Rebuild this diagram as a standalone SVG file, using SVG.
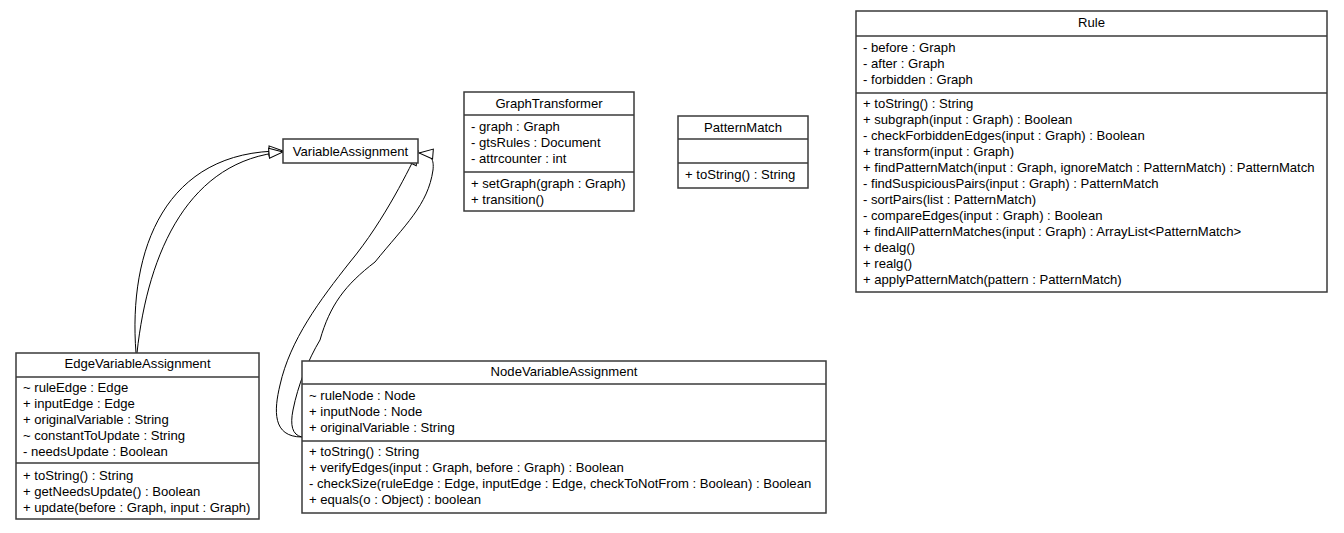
<svg xmlns="http://www.w3.org/2000/svg" width="1344" height="533" viewBox="0 0 1344 533">
  <style>
    text { font-family: "Liberation Sans", Arial, sans-serif; font-size: 13.1px; fill: #000; }
    .title { text-anchor: middle; }
    .box { fill: #fff; stroke: #3a3a3a; stroke-width: 1.5; }
    .sep { stroke: #3a3a3a; stroke-width: 1.5; }
    .edge { fill: none; stroke: #000; stroke-width: 1; }
  </style>
  <defs>
    <!-- hollow triangle: generalization -->
    <marker id="gen" markerUnits="userSpaceOnUse" viewBox="0 0 16 12" markerWidth="16" markerHeight="12" refX="15" refY="6" orient="auto">
      <path d="M1,1 L15,6 L1,11 Z" fill="#fff" stroke="#000" stroke-width="1"/>
    </marker>
  </defs>
  <rect width="1344" height="533" fill="#fff"/>

  <g id="connectors">
    <path class="edge" d="M136,353 C128,250 165,150 283,151" marker-end="url(#gen)"/>
    <path class="edge" d="M137,353 C148,250 190,160 283,152" marker-end="url(#gen)"/>
    <path class="edge" d="M302,437 C272,437 274,410 280,385 C290,340 320,300 350,262 C385,220 411,165 418,151" marker-end="url(#gen)"/>
    <path class="edge" d="M302,437 C292,435 290,425 293,410 C298,385 308,360 320,340 C330,305 345,285 375,262 C405,225 428,205 433,170 C434,160 432,154 419,153" marker-end="url(#gen)"/>
  </g>

  <g id="VariableAssignment">
    <rect class="box" x="283" y="139" width="135" height="24"/>
    <text class="title" x="350.5" y="155.5">VariableAssignment</text>
  </g>

  <g id="GraphTransformer">
    <rect class="box" x="464" y="92" width="170" height="119"/>
    <line class="sep" x1="464" y1="115" x2="634" y2="115"/>
    <line class="sep" x1="464" y1="172" x2="634" y2="172"/>
    <text class="title" x="549" y="107.5">GraphTransformer</text>
    <text x="471" y="130.5">- graph : Graph</text>
    <text x="471" y="146.5">- gtsRules : Document</text>
    <text x="471" y="162.5">- attrcounter : int</text>
    <text x="471" y="187.5">+ setGraph(graph : Graph)</text>
    <text x="471" y="203.5">+ transition()</text>
  </g>

  <g id="PatternMatch">
    <rect class="box" x="678" y="116" width="130" height="72"/>
    <line class="sep" x1="678" y1="139" x2="808" y2="139"/>
    <line class="sep" x1="678" y1="163" x2="808" y2="163"/>
    <text class="title" x="743" y="131.5">PatternMatch</text>
    <text x="685" y="178.5">+ toString() : String</text>
  </g>

  <g id="Rule">
    <rect class="box" x="856" y="11" width="471" height="281"/>
    <line class="sep" x1="856" y1="36" x2="1327" y2="36"/>
    <line class="sep" x1="856" y1="93" x2="1327" y2="93"/>
    <text class="title" x="1091.5" y="26.5">Rule</text>
    <text x="863" y="51.5">- before : Graph</text>
    <text x="863" y="67.5">- after : Graph</text>
    <text x="863" y="83.5">- forbidden : Graph</text>
    <text x="863" y="107.5">+ toString() : String</text>
    <text x="863" y="123.5">+ subgraph(input : Graph) : Boolean</text>
    <text x="863" y="139.5">- checkForbiddenEdges(input : Graph) : Boolean</text>
    <text x="863" y="155.5">+ transform(input : Graph)</text>
    <text x="863" y="171.5">+ findPatternMatch(input : Graph, ignoreMatch : PatternMatch) : PatternMatch</text>
    <text x="863" y="187.5">- findSuspiciousPairs(input : Graph) : PatternMatch</text>
    <text x="863" y="203.5">- sortPairs(list : PatternMatch)</text>
    <text x="863" y="219.5">- compareEdges(input : Graph) : Boolean</text>
    <text x="863" y="235.5">+ findAllPatternMatches(input : Graph) : ArrayList&lt;PatternMatch&gt;</text>
    <text x="863" y="251.5">+ dealg()</text>
    <text x="863" y="267.5">+ realg()</text>
    <text x="863" y="283.5">+ applyPatternMatch(pattern : PatternMatch)</text>
  </g>

  <g id="EdgeVariableAssignment">
    <rect class="box" x="16" y="353" width="243" height="166"/>
    <line class="sep" x1="16" y1="377" x2="259" y2="377"/>
    <line class="sep" x1="16" y1="463" x2="259" y2="463"/>
    <text class="title" x="137.5" y="367.5">EdgeVariableAssignment</text>
    <text x="23" y="391.5">~ ruleEdge : Edge</text>
    <text x="23" y="407.5">+ inputEdge : Edge</text>
    <text x="23" y="423.5">+ originalVariable : String</text>
    <text x="23" y="439.5">~ constantToUpdate : String</text>
    <text x="23" y="455.5">- needsUpdate : Boolean</text>
    <text x="23" y="479.5">+ toString() : String</text>
    <text x="23" y="495.5">+ getNeedsUpdate() : Boolean</text>
    <text x="23" y="511.5">+ update(before : Graph, input : Graph)</text>
  </g>

  <g id="NodeVariableAssignment">
    <rect class="box" x="302" y="361" width="524" height="152"/>
    <line class="sep" x1="302" y1="384" x2="826" y2="384"/>
    <line class="sep" x1="302" y1="441" x2="826" y2="441"/>
    <text class="title" x="564" y="375.5">NodeVariableAssignment</text>
    <text x="309" y="399.5">~ ruleNode : Node</text>
    <text x="309" y="415.5">+ inputNode : Node</text>
    <text x="309" y="431.5">+ originalVariable : String</text>
    <text x="309" y="455.5">+ toString() : String</text>
    <text x="309" y="471.5">+ verifyEdges(input : Graph, before : Graph) : Boolean</text>
    <text x="309" y="487.5">- checkSize(ruleEdge : Edge, inputEdge : Edge, checkToNotFrom : Boolean) : Boolean</text>
    <text x="309" y="503.5">+ equals(o : Object) : boolean</text>
  </g>
</svg>
